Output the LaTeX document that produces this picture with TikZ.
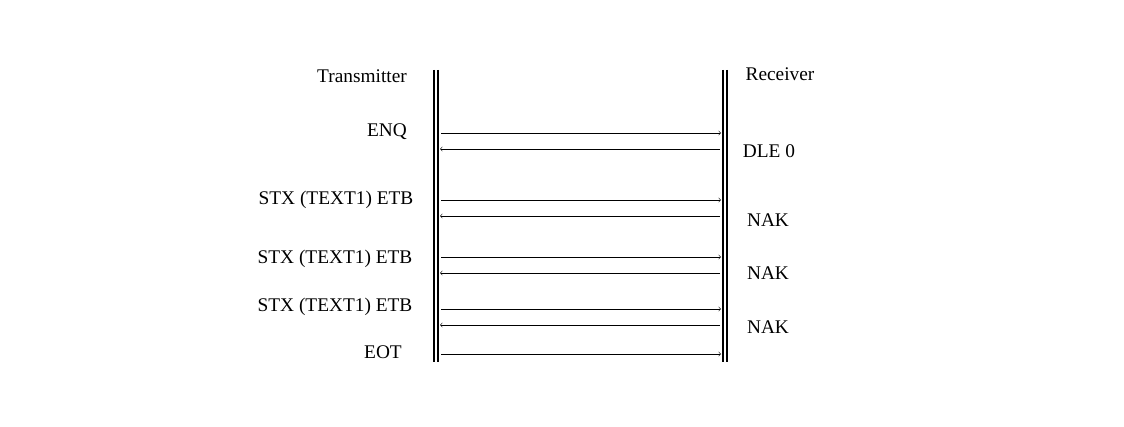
\documentclass[tikz,border=0pt]{standalone}
\usepackage{fontspec}
\setmainfont{Liberation Serif}
\usetikzlibrary{arrows}

\begin{document}
\begin{tikzpicture}[x=0.75pt,y=-0.75pt,
    lifeline/.style={line width=2pt, black},
    msg/.style={->, >=to, thin, black},
    lbl/.style={font=\fontsize{14.5}{17}\selectfont, inner sep=0pt}]
        \useasboundingbox (0,0) rectangle (1124,427);
        % lifelines
        \coordinate (T1) at (434,70);
        \coordinate (T2) at (434,362);
        \coordinate (R1) at (723,70);
        \coordinate (R2) at (723,362);
        \draw[lifeline] (T1) -- (T2);
        \draw[lifeline] ([xshift=3pt]T1) -- ([xshift=3pt]T2);
        \draw[lifeline] (R1) -- (R2);
        \draw[lifeline] ([xshift=3pt]R1) -- ([xshift=3pt]R2);

        \node[lbl] (tx) at (362,76) {Transmitter};
        \node[lbl] (rx) at (780,74) {Receiver};

        % messages to the receiver
        \foreach \y/\n in {133/a,200/b,257/c,309/d,354/e} {
            \coordinate (s\n) at (441,\y);
            \coordinate (e\n) at (721,\y);
            \draw[msg] (s\n) -- (e\n);
        }
        % replies to the transmitter
        \foreach \y/\n in {149/a,216/b,273/c,325/d} {
            \coordinate (p\n) at (720,\y);
            \coordinate (q\n) at (440,\y);
            \draw[msg] (p\n) -- (q\n);
        }

        \node[lbl] (enq) at (387,132) {ENQ};
        \node[lbl] (stx1) at (336,200) {STX (TEXT1) ETB};
        \node[lbl] (stx2) at (335,259) {STX (TEXT1) ETB};
        \node[lbl] (stx3) at (335,307) {STX (TEXT1) ETB};
        \node[lbl] (eot) at (383,352) {EOT};
        \node[lbl] (dle) at (769,151) {DLE 0};
        \node[lbl] (nak1) at (768,220) {NAK};
        \node[lbl] (nak2) at (768,273) {NAK};
        \node[lbl] (nak3) at (768,327) {NAK};
    \end{tikzpicture}
\end{document}
